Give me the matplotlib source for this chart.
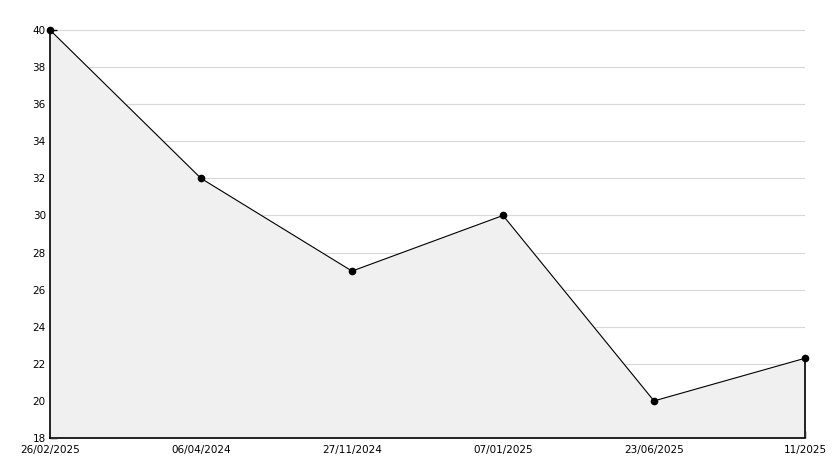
import matplotlib
matplotlib.use("Agg")
import matplotlib.pyplot as plt
from matplotlib.ticker import MultipleLocator

dates = ["26/02/2025", "06/04/2024", "27/11/2024", "07/01/2025", "23/06/2025", "11/2025"]
values = [40, 32, 27, 30, 20, 22.3]

fig = plt.figure(figsize=(8.34, 4.68), dpi=100)
ax = fig.add_axes([50 / 834, 30 / 468, 755 / 834, 408 / 468])

x = list(range(len(values)))
ax.fill_between(x, values, 18, color="#f0f0f0", zorder=1)
ax.plot(x, values, color="black", linewidth=0.8, marker="o", markersize=4.5,
        zorder=3, clip_on=False)
# closing edge of the filled area
ax.vlines(x[-1], 18, values[-1], color="black", linewidth=1.2, zorder=3, clip_on=False)

ax.set_xlim(0, len(values) - 1)
ax.set_ylim(18, 40)
ax.yaxis.set_major_locator(MultipleLocator(2))
ax.yaxis.set_minor_locator(MultipleLocator(1))
ax.set_xticks(x)
ax.set_xticklabels(dates)
ax.grid(axis="y", which="major", color="#d8d8d8", linewidth=0.8, zorder=0)
ax.set_axisbelow(True)

for side in ["top", "right"]:
    ax.spines[side].set_visible(False)
ax.spines["left"].set_linewidth(1.2)
ax.spines["bottom"].set_linewidth(1.2)

ax.tick_params(axis="both", which="major", direction="in", length=5, width=1, labelsize=7.5, pad=3)
ax.tick_params(axis="y", which="minor", direction="in", length=4, width=1, left=True)
ax.tick_params(axis="x", pad=5)

fig.savefig("out.png", dpi=100)
